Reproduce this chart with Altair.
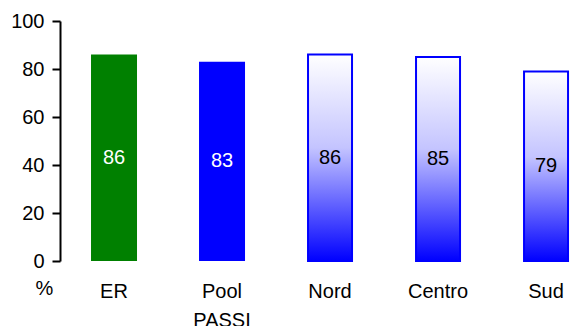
import altair as alt
import pandas as pd

# Share of respondents (%) by area
categories = ["ER", "Pool PASSI", "Nord", "Centro", "Sud"]
values = [86, 83, 86, 85, 79]
solid_group = ["ER", "Pool PASSI"]
solid_colors = ["#008000", "#0000ff"]

df = pd.DataFrame({"area": categories, "pct": values})
df["half"] = df["pct"] / 2

FONT = "Liberation Sans"

x_enc = alt.X(
    "area:N",
    sort=categories,
    scale=alt.Scale(paddingInner=0.574, paddingOuter=0.148, align=0.97),
    axis=alt.Axis(
        title=None,
        domain=False,
        ticks=False,
        labelAngle=0,
        labelPadding=20,
        labelFontSize=20,
        labelLineHeight=29,
        labelColor="black",
        labelFont=FONT,
        labelExpr="datum.value == 'Pool PASSI' ? ['Pool', 'PASSI'] : datum.label",
    ),
)

y_enc = alt.Y(
    "pct:Q",
    scale=alt.Scale(domain=[0, 100], nice=False),
    axis=alt.Axis(
        values=[0, 20, 40, 60, 80, 100],
        grid=False,
        tickSize=8,
        tickWidth=2,
        tickColor="black",
        domainColor="black",
        domainWidth=2,
        labelPadding=8,
        labelFontSize=20,
        labelFont=FONT,
        labelColor="black",
        title="%",
        titleAngle=0,
        titleX=-16,
        titleY=267,
        titleAlign="center",
        titleBaseline="middle",
        titleFontSize=20,
        titleFontWeight="normal",
        titleFont=FONT,
        titleColor="black",
    ),
)

base = alt.Chart(df)

solid_bars = base.transform_filter(
    alt.FieldOneOfPredicate(field="area", oneOf=solid_group)
).mark_bar(size=46).encode(
    x=x_enc,
    y=y_enc,
    color=alt.Color("area:N", scale=alt.Scale(domain=solid_group, range=solid_colors), legend=None),
)

fade = alt.Gradient(
    gradient="linear",
    stops=[
        alt.GradientStop(color="#ffffff", offset=0),
        alt.GradientStop(color="#c4c4ff", offset=0.45),
        alt.GradientStop(color="#0000ff", offset=1),
    ],
    x1=0, x2=0, y1=0, y2=1,
)

fade_bars = base.transform_filter(
    alt.FieldOneOfPredicate(field="area", oneOf=solid_group, ).__invert__()
).mark_bar(size=44, fill=fade, stroke="#0000ff", strokeWidth=2).encode(
    x=alt.X("area:N", sort=categories),
    y=alt.Y("pct:Q"),
)

solid_text = base.transform_filter(
    alt.FieldOneOfPredicate(field="area", oneOf=solid_group)
).mark_text(fontSize=20, font=FONT, color="white", baseline="middle").encode(
    x=alt.X("area:N", sort=categories),
    y=alt.Y("half:Q"),
    text=alt.Text("pct:Q"),
)

fade_text = base.transform_filter(
    alt.FieldOneOfPredicate(field="area", oneOf=solid_group).__invert__()
).mark_text(fontSize=20, font=FONT, color="black", baseline="middle").encode(
    x=alt.X("area:N", sort=categories),
    y=alt.Y("half:Q"),
    text=alt.Text("pct:Q"),
)

chart = alt.layer(solid_bars, fade_bars, solid_text, fade_text).properties(
    width=510,
    height=240,
    autosize=alt.AutoSizeParams(type="none"),
    padding={"left": 60, "top": 21, "right": 0, "bottom": 65},
    background="white",
).configure_view(stroke=None)

chart.save("out.html", embed_options={"renderer": "svg", "actions": False})
